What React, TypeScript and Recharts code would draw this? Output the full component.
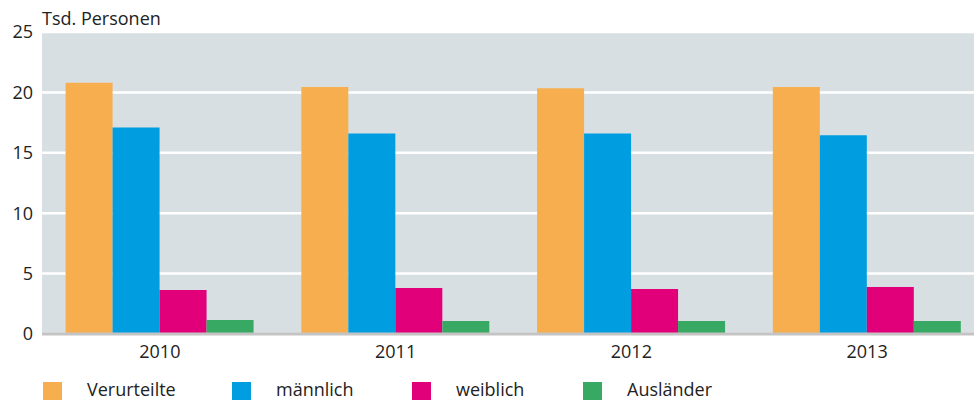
import React from 'react';
import { BarChart, Bar, XAxis, YAxis, CartesianGrid, Legend } from 'recharts';

const years = ['2010', '2011', '2012', '2013'];
const verurteilte = [20.8, 20.45, 20.35, 20.45];
const maennlich = [17.1, 16.6, 16.6, 16.45];
const weiblich = [3.65, 3.8, 3.72, 3.9];
const auslaender = [1.15, 1.08, 1.08, 1.08];
const yTicks = [0, 5, 10, 15, 20, 25];

const SERIES = [
  { key: 'verurteilte', label: 'Verurteilte', color: '#F6AE4F' },
  { key: 'maennlich', label: 'männlich', color: '#009EE0' },
  { key: 'weiblich', label: 'weiblich', color: '#E2007A' },
  { key: 'auslaender', label: 'Ausländer', color: '#38A963' }
];

const data = years.map((year, i) => ({
  year,
  verurteilte: verurteilte[i],
  maennlich: maennlich[i],
  weiblich: weiblich[i],
  auslaender: auslaender[i]
}));

const FONT = '"Open Sans", "Noto Sans", sans-serif';
const LEGEND_LEFT = [43, 232, 412, 583];

const renderLegend = () => (
  <div style={{ position: 'relative', height: 36, fontFamily: FONT }}>
    {SERIES.map((s, i) => (
      <div
        key={s.key}
        style={{ position: 'absolute', left: LEGEND_LEFT[i], top: 16, display: 'flex', alignItems: 'flex-start' }}
      >
        <div style={{ width: 19, height: 20, marginTop: 2, backgroundColor: s.color }} />
        <span style={{ marginLeft: 25, fontSize: 18, color: '#222', lineHeight: '18px' }}>{s.label}</span>
      </div>
    ))}
  </div>
);

export default function App() {
  return (
    <div style={{ position: 'absolute', left: 0, top: 0, width: 974, height: 400, overflow: 'hidden', background: '#fff' }}>
      <div
        style={{
          position: 'absolute',
          left: 42,
          top: 9,
          fontFamily: FONT,
          fontSize: 18,
          lineHeight: '18px',
          color: '#222'
        }}
      >
        Tsd. Personen
      </div>
      <BarChart
        width={985}
        height={400}
        data={data}
        margin={{ top: 32, right: 0, bottom: 0, left: 0 }}
        barCategoryGap="10%"
        barGap={0}
      >
        <CartesianGrid fill="#D8DFE2" stroke="#FFFFFF" strokeWidth={2.5} vertical={false} />
        <XAxis
          dataKey="year"
          height={30}
          tickSize={0}
          tickMargin={11}
          axisLine={{ stroke: '#C4C4C4', strokeWidth: 3 }}
          tick={{ fill: '#222', fontSize: 18, fontFamily: FONT }}
        />
        <YAxis
          width={42}
          domain={[0, 25]}
          ticks={yTicks}
          tickSize={0}
          tickMargin={9}
          axisLine={false}
          tick={{ fill: '#222', fontSize: 18, fontFamily: FONT }}
        />
        <Legend verticalAlign="bottom" align="left" content={renderLegend} wrapperStyle={{ left: 0, bottom: 0 }} />
        {SERIES.map((s) => (
          <Bar key={s.key} dataKey={s.key} name={s.label} fill={s.color} isAnimationActive={false} />
        ))}
      </BarChart>
    </div>
  );
}
